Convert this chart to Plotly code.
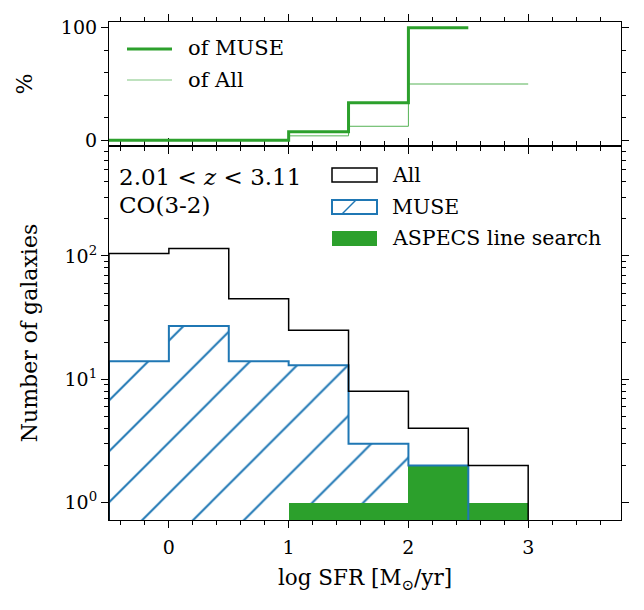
import plotly.graph_objects as go

# ---------------- data ----------------
bin_edges = [-0.5, 0.0, 0.5, 1.0, 1.5, 2.0, 2.5, 3.0]
n_all = [105, 115, 45, 25, 8, 4, 2]
n_muse = [14, 27, 14, 13, 3, 2]
aspecs_centers = [1.25, 1.75, 2.25, 2.75]
n_aspecs = [1, 1, 2, 1]
pct_muse = [0, 0, 0, 7.7, 33.3, 100]
pct_all = [0, 0, 0, 4, 12.5, 50, 50]

GREEN = "#2ca02c"
BLUE = "#1f77b4"
FONT = "DejaVu Serif"
BASE = 0.01  # below axis, histogram baseline

def step_xy(edges, counts, base=None):
    xs, ys = [], []
    if base is not None:
        xs.append(edges[0]); ys.append(base)
    for i, c in enumerate(counts):
        xs += [edges[i], edges[i + 1]]
        ys += [c, c]
    if base is not None:
        xs.append(edges[len(counts)]); ys.append(base)
    return xs, ys

fig = go.Figure()

# ---- top panel: percentages ----
x, y = step_xy(bin_edges, pct_all)
fig.add_trace(go.Scatter(x=x, y=y, mode="lines", line=dict(color=GREEN, width=1),
                         opacity=0.8, xaxis="x2", yaxis="y2", showlegend=False))
x, y = step_xy(bin_edges, pct_muse)
fig.add_trace(go.Scatter(x=x, y=y, mode="lines", line=dict(color=GREEN, width=3),
                         xaxis="x2", yaxis="y2", showlegend=False))

# ---- bottom panel ----
centers = [(bin_edges[i] + bin_edges[i + 1]) / 2 for i in range(len(n_muse))]
fig.add_trace(go.Bar(x=centers, y=n_muse, width=0.5,
                     marker=dict(color=BLUE, line=dict(width=0),
                                 pattern=dict(shape="/", fgcolor=BLUE,
                                              size=36, solidity=0.055, fillmode="replace")),
                     showlegend=False))
fig.add_trace(go.Bar(x=aspecs_centers, y=n_aspecs, width=0.5,
                     marker=dict(color=GREEN, line=dict(width=0)), showlegend=False))
x, y = step_xy(bin_edges, n_muse, BASE)
fig.add_trace(go.Scatter(x=x, y=y, mode="lines", line=dict(color=BLUE, width=2),
                         showlegend=False))
x, y = step_xy(bin_edges, n_all, BASE)
fig.add_trace(go.Scatter(x=x, y=y, mode="lines", line=dict(color="black", width=1.5),
                         showlegend=False))

# ---- layout ----
W, H = 644, 610
L, R, T, B = 109, 621, 22, 520
split = (B - 146) / (B - T)

def px(v):
    return (v - L) / (R - L)

def py(v):
    return (B - v) / (B - T)

axis_common = dict(showline=True, linecolor="black", linewidth=1.2, mirror="allticks",
                   ticks="outside", ticklen=7, tickwidth=1.2, tickcolor="black",
                   showgrid=False, zeroline=False,
                   tickfont=dict(family=FONT, size=19, color="black"))

minor_log = [m * 10 ** k for k in range(0, 3) for m in range(2, 10)]

fig.update_layout(
    width=W, height=H,
    margin=dict(l=L, r=W - R, t=T, b=H - B),
    paper_bgcolor="white", plot_bgcolor="white",
    barmode="overlay", bargap=0,
    font=dict(family=FONT, color="black"),
    xaxis=dict(axis_common, range=[-0.5, 3.775], domain=[0, 1], anchor="y",
               tickvals=[0, 1, 2, 3], ticklabelstandoff=3,
               minor=dict(dtick=0.2, ticks="outside", ticklen=3.5, tickwidth=1, tickcolor="black"),
               title=dict(text="log SFR [M<sub>⊙</sub>/yr]", font=dict(family=FONT, size=21.5), standoff=13)),
    yaxis=dict(axis_common, type="log", range=[-0.141, 2.892], domain=[0, split], anchor="x",
               tickvals=[1, 10, 100],
               ticktext=["10<sup>0</sup>", "10<sup>1</sup>", "10<sup>2</sup>"],
               minor=dict(tickvals=minor_log, ticks="outside", ticklen=3.5, tickwidth=1, tickcolor="black"),
               title=dict(text="Number of galaxies", font=dict(family=FONT, size=22), standoff=20)),
    xaxis2=dict(axis_common, range=[-0.5, 3.775], domain=[0, 1], anchor="y2", matches="x",
                tickvals=[0, 1, 2, 3], showticklabels=False,
                minor=dict(dtick=0.2, ticks="outside", ticklen=3.5, tickwidth=1, tickcolor="black")),
    yaxis2=dict(axis_common, range=[-5, 105], domain=[split, 1], anchor="x2",
                tickvals=[0, 100],
                minor=dict(dtick=20, ticks="outside", ticklen=3.5, tickwidth=1, tickcolor="black"),
                title=dict(text="%", font=dict(family=FONT, size=22), standoff=22)),
)

shapes = []
ann = []

# bottom legend
lx0, lx1 = px(332), px(377)
shapes.append(dict(type="rect", xref="paper", yref="paper", x0=lx0, x1=lx1, y0=py(182), y1=py(168),
                   line=dict(color="black", width=1.5), fillcolor="white"))
shapes.append(dict(type="rect", xref="paper", yref="paper", x0=lx0, x1=lx1, y0=py(214), y1=py(200),
                   line=dict(color=BLUE, width=2), fillcolor="white"))
shapes.append(dict(type="line", xref="paper", yref="paper", x0=px(342), x1=px(356), y0=py(214), y1=py(200),
                   line=dict(color=BLUE, width=1.5)))
shapes.append(dict(type="rect", xref="paper", yref="paper", x0=lx0, x1=lx1, y0=py(246), y1=py(231),
                   line=dict(width=0), fillcolor=GREEN))
for label, yy in [("All", 175), ("MUSE", 207), ("ASPECS line search", 238)]:
    ann.append(dict(text=label, xref="paper", yref="paper", x=px(390), y=py(yy),
                    xanchor="left", yanchor="middle", showarrow=False,
                    font=dict(family=FONT, size=20.5, color="black")))

# top legend
shapes.append(dict(type="line", xref="paper", yref="paper", x0=px(127), x1=px(172), y0=py(49), y1=py(49),
                   line=dict(color=GREEN, width=3)))
shapes.append(dict(type="line", xref="paper", yref="paper", x0=px(127), x1=px(172), y0=py(80), y1=py(80),
                   line=dict(color=GREEN, width=1), opacity=0.6))
for label, yy in [("of MUSE", 48), ("of All", 80)]:
    ann.append(dict(text=label, xref="paper", yref="paper", x=px(186), y=py(yy),
                    xanchor="left", yanchor="middle", showarrow=False,
                    font=dict(family=FONT, size=21, color="black")))

# redshift / line text
ann.append(dict(text="2.01 < <i>z</i> < 3.11", xref="paper", yref="paper", x=px(117), y=py(177),
                xanchor="left", yanchor="middle", showarrow=False,
                font=dict(family=FONT, size=23, color="black")))
ann.append(dict(text="CO(3-2)", xref="paper", yref="paper", x=px(117), y=py(205),
                xanchor="left", yanchor="middle", showarrow=False,
                font=dict(family=FONT, size=23, color="black")))

fig.update_layout(shapes=shapes, annotations=ann)
fig.write_html("out.html")
